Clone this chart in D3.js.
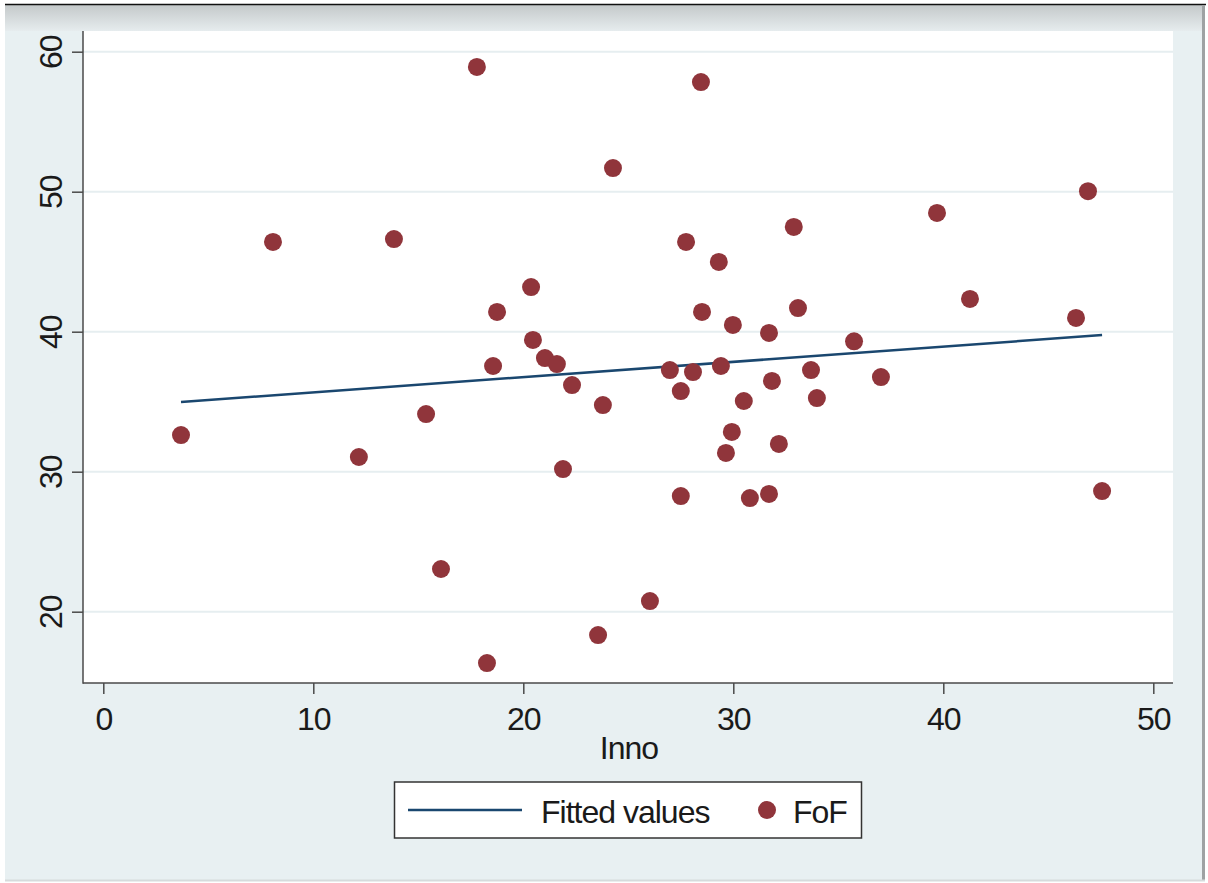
<!DOCTYPE html>
<html>
<head>
<meta charset="utf-8">
<script src="https://cdn.jsdelivr.net/npm/d3@7/dist/d3.min.js"></script>
<style>
  html, body { margin: 0; padding: 0; background: #ffffff; }
  svg { display: block; }
  text { font-family: "Liberation Sans", Arial, Helvetica, sans-serif; fill: #1a1a1a; }
</style>
</head>
<body>
<svg id="chart" width="1208" height="883"></svg>
<script>
// ---- data ----
const innoValues = [3.70, 8.08, 12.17, 13.84, 15.37, 16.08, 17.79, 18.27, 18.56, 18.75,
  20.37, 20.46, 21.03, 21.60, 21.89, 22.32, 23.56, 23.79, 24.27, 26.03,
  26.98, 27.50, 27.50, 27.75, 28.08, 28.46, 28.51, 29.31, 29.41, 29.65,
  29.93, 29.98, 30.50, 30.79, 31.70, 31.70, 31.84, 32.17, 32.88, 33.08,
  33.70, 33.98, 35.75, 37.03, 39.70, 41.27, 46.32, 46.89, 47.56];
const fofValues = [32.62, 46.41, 31.05, 46.62, 34.12, 23.05, 58.91, 16.33, 37.55, 41.41,
  43.19, 39.41, 38.12, 37.69, 30.19, 36.19, 18.33, 34.76, 51.69, 20.76,
  37.26, 35.76, 28.26, 46.41, 37.12, 57.83, 41.41, 44.98, 37.55, 31.34,
  32.84, 40.48, 35.05, 28.12, 28.41, 39.91, 36.48, 31.98, 47.48, 41.69,
  37.26, 35.26, 39.31, 36.76, 48.48, 42.34, 40.98, 50.04, 28.62];
const fittedX = [3.70, 47.56];
const fittedY = [34.98, 39.76];
const xTicks = [0, 10, 20, 30, 40, 50];
const yTicks = [20, 30, 40, 50, 60];
const xTitle = "Inno";
const legendLabels = ["Fitted values", "FoF"];

// ---- layout ----
const W = 1208, H = 883;
const plot = { left: 83, right: 1173, top: 31, bottom: 683 };
const colors = { bg: "#e8f0f2", grid: "#e6eef0", axis: "#4a4a4a", line: "#1a476f", dot: "#90353b" };

const svg = d3.select("#chart");
const defs = svg.append("defs");
const grad = defs.append("linearGradient").attr("id", "topband").attr("x1", 0).attr("y1", 0).attr("x2", 0).attr("y2", 1);
grad.append("stop").attr("offset", "0%").attr("stop-color", "#c4c9ca");
grad.append("stop").attr("offset", "100%").attr("stop-color", "#e6ecee");

// outer background
svg.append("rect").attr("x", 0).attr("y", 0).attr("width", W).attr("height", H).attr("fill", "#ffffff");
svg.append("rect").attr("x", 5).attr("y", 4).attr("width", 1200).attr("height", 877).attr("fill", colors.bg);
svg.append("rect").attr("x", 5).attr("y", 5).attr("width", 1200).attr("height", 26).attr("fill", "url(#topband)");
svg.append("line").attr("x1", 5).attr("x2", 1206).attr("y1", 4.5).attr("y2", 4.5).attr("stroke", "#111").attr("stroke-width", 1.5);
svg.append("rect").attr("x", 1202).attr("y", 5).attr("width", 3).attr("height", 876).attr("fill", "#9ea2a3");
svg.append("line").attr("x1", 5).attr("x2", 1205).attr("y1", 880.5).attr("y2", 880.5).attr("stroke", "#d6dbdc").attr("stroke-width", 2);

// scales
const x = d3.scaleLinear().domain([0, 50]).range([103.3, 1153.3]);
const y = d3.scaleLinear().domain([20, 60]).range([611.7, 51.7]);

// plot region
svg.append("rect").attr("x", plot.left).attr("y", plot.top)
  .attr("width", plot.right - plot.left).attr("height", plot.bottom - plot.top).attr("fill", "#ffffff");

// grid lines
svg.append("g").selectAll("line").data(yTicks).join("line")
  .attr("x1", plot.left).attr("x2", plot.right)
  .attr("y1", d => y(d)).attr("y2", d => y(d))
  .attr("stroke", colors.grid).attr("stroke-width", 2);

// y axis
const yAxis = svg.append("g").attr("transform", `translate(${plot.left},0)`)
  .call(d3.axisLeft(y).tickValues(yTicks).tickSize(11).tickSizeOuter(0).tickFormat(d3.format("d")));
yAxis.select(".domain").remove();
yAxis.selectAll(".tick line").attr("stroke", colors.axis).attr("stroke-width", 1.5);
yAxis.selectAll(".tick text")
  .attr("x", null).attr("dy", null)
  .attr("transform", "translate(-21,0) rotate(-90)")
  .attr("text-anchor", "middle")
  .style("font-size", "32px").style("letter-spacing", "-1px")
  .style("font-family", "Liberation Sans, Arial, sans-serif").attr("fill", "#1a1a1a");

// x axis
const xAxis = svg.append("g").attr("transform", `translate(0,${plot.bottom})`)
  .call(d3.axisBottom(x).tickValues(xTicks).tickSize(11).tickSizeOuter(0).tickFormat(d3.format("d")));
xAxis.select(".domain").remove();
xAxis.selectAll(".tick line").attr("stroke", colors.axis).attr("stroke-width", 1.5);
xAxis.selectAll(".tick text")
  .attr("y", 47).attr("dy", null)
  .style("font-size", "32px").style("letter-spacing", "-1px")
  .style("font-family", "Liberation Sans, Arial, sans-serif").attr("fill", "#1a1a1a");

// axis lines
svg.append("line").attr("x1", plot.left).attr("x2", plot.left).attr("y1", plot.top).attr("y2", plot.bottom + 0.75)
  .attr("stroke", colors.axis).attr("stroke-width", 1.5);
svg.append("line").attr("x1", plot.left).attr("x2", plot.right).attr("y1", plot.bottom).attr("y2", plot.bottom)
  .attr("stroke", colors.axis).attr("stroke-width", 1.5);

// fitted line
const fitted = fittedX.map((v, i) => [v, fittedY[i]]);
svg.append("path").datum(fitted)
  .attr("d", d3.line().x(d => x(d[0])).y(d => y(d[1])))
  .attr("fill", "none").attr("stroke", colors.line).attr("stroke-width", 2.5);

// points
const pts = innoValues.map((v, i) => ({ x: v, y: fofValues[i] }));
svg.append("g").selectAll("circle").data(pts).join("circle")
  .attr("cx", d => x(d.x)).attr("cy", d => y(d.y)).attr("r", 9)
  .attr("fill", colors.dot);

// x title
svg.append("text").attr("x", 629).attr("y", 759).attr("text-anchor", "middle")
  .style("font-size", "32px").style("letter-spacing", "-1px").text(xTitle);

// legend
const lg = svg.append("g");
lg.append("rect").attr("x", 394.5).attr("y", 782).attr("width", 467).attr("height", 56)
  .attr("fill", "#ffffff").attr("stroke", "#333").attr("stroke-width", 1.5);
lg.append("line").attr("x1", 408).attr("x2", 522).attr("y1", 810).attr("y2", 810)
  .attr("stroke", colors.line).attr("stroke-width", 2.5);
lg.append("text").attr("x", 541).attr("y", 822.5).style("font-size", "32px").style("letter-spacing", "-1px").text(legendLabels[0]);
lg.append("circle").attr("cx", 767).attr("cy", 810).attr("r", 9).attr("fill", colors.dot);
lg.append("text").attr("x", 793).attr("y", 822.5).style("font-size", "32px").style("letter-spacing", "-1px").text(legendLabels[1]);
</script>
</body>
</html>
